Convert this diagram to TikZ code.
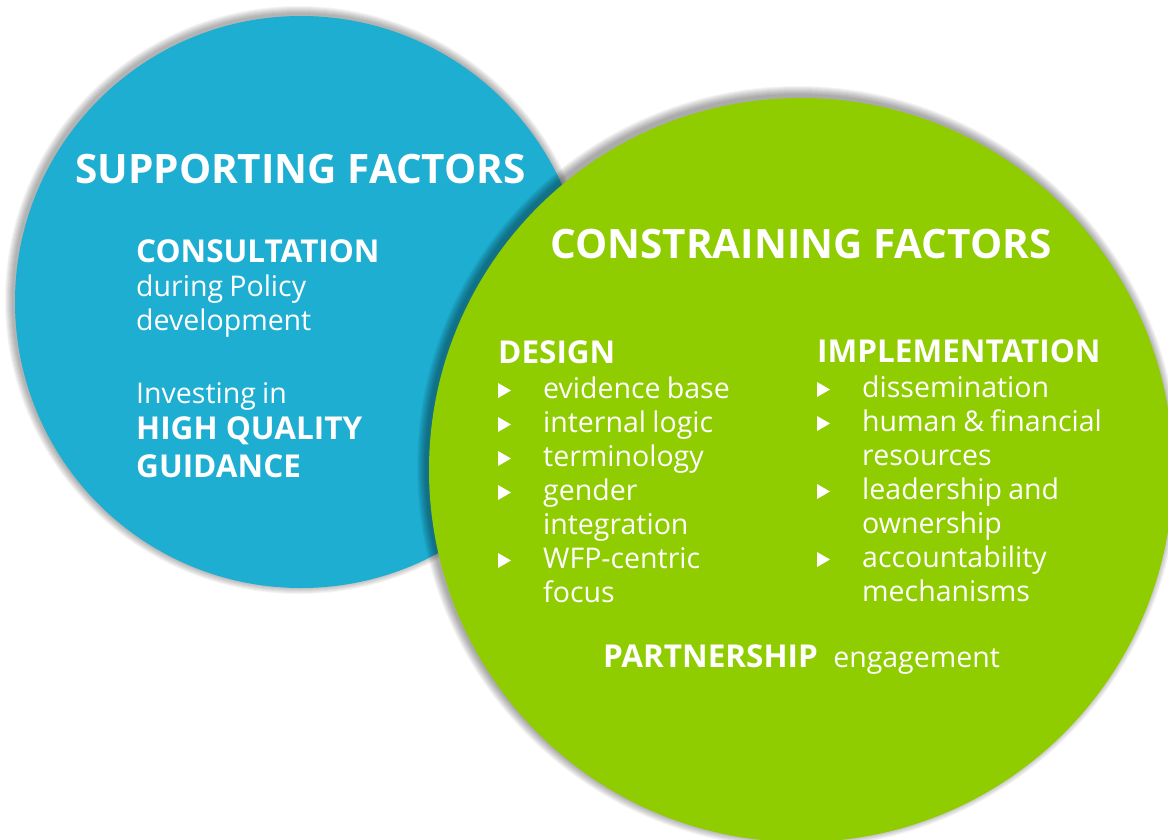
\documentclass[tikz,border=0pt]{standalone}
\usepackage{fontspec}
\setmainfont{Open Sans}
\usetikzlibrary{positioning}
\definecolor{wfpblue}{RGB}{30,174,209}
\definecolor{wfpgreen}{RGB}{143,204,0}
\newcommand{\tightspace}{\spaceskip=0.22em\relax}
\tikzset{
  title/.style={font=\fontsize{40.5}{48}\selectfont\bfseries, text=white, anchor=base west, inner sep=0pt},
  head/.style={font=\fontsize{31.5}{36}\selectfont\bfseries, text=white, anchor=base west, inner sep=0pt},
  body/.style={font=\fontsize{28.5}{34}\selectfont\tightspace, text=white, anchor=base west, inner sep=0pt},
  softshadow/.style={fill=black, opacity=0.045}
}
\newcommand{\tribullet}[2]{\fill[white] (#1,#2-15) -- (#1+13,#2-7.5) -- (#1,#2) -- cycle;}
\begin{document}
\begin{tikzpicture}[x=1pt,y=-1pt, line cap=round, line join=round]
\useasboundingbox (0,0) rectangle (1168,839);
% blue circle
\foreach \r in {1,...,8} \fill[softshadow] (299,300) circle (286+\r);
\fill[wfpblue] (301,302) circle (286);
% green circle
\foreach \r in {1,...,9} \fill[softshadow] (798,467) circle (372+\r);
\fill[wfpgreen] (801,470) circle (372);

% supporting factors
\node[title] (sup) at (75,183) {SUPPORTING FACTORS};
\node[head] (cons) at (136,262) {CONSULTATION};
\node[body] (cons1) at (136,296) {during Policy};
\node[body] (cons2) at (136,330) {development};
\node[body] (inv) at (136,403) {Investing in};
\node[head] (hq1) at (136,439) {HIGH QUALITY};
\node[head] (hq2) at (136,477) {GUIDANCE};

% constraining factors
\node[title] (con) at (550,258) {CONSTRAINING FACTORS};
\node[head] (des) at (498,363) {DESIGN};
\foreach \txt/\bul [count=\i from 0] in {evidence base/1, internal logic/1, terminology/1,
    gender/1, integration/0, WFP-centric/1, focus/0} {
  \node[body] (des\i) at (543,398+34*\i) {\txt};
  \ifnum\bul=1 \tribullet{498}{398+34*\i} \fi
}
\node[head] (imp) at (817,362) {IMPLEMENTATION};
\foreach \txt/\bul [count=\i from 0] in {dissemination/1, human \& financial/1, resources/0,
    leadership and/1, ownership/0, accountability/1, mechanisms/0} {
  \node[body] (imp\i) at (862,397+34*\i) {\txt};
  \ifnum\bul=1 \tribullet{817}{397+34*\i} \fi
}
\node[head] (part) at (603,667) {PARTNERSHIP};
\node[body, right=15pt of part.base east, anchor=base west] (eng) {engagement};
\end{tikzpicture}
\end{document}
